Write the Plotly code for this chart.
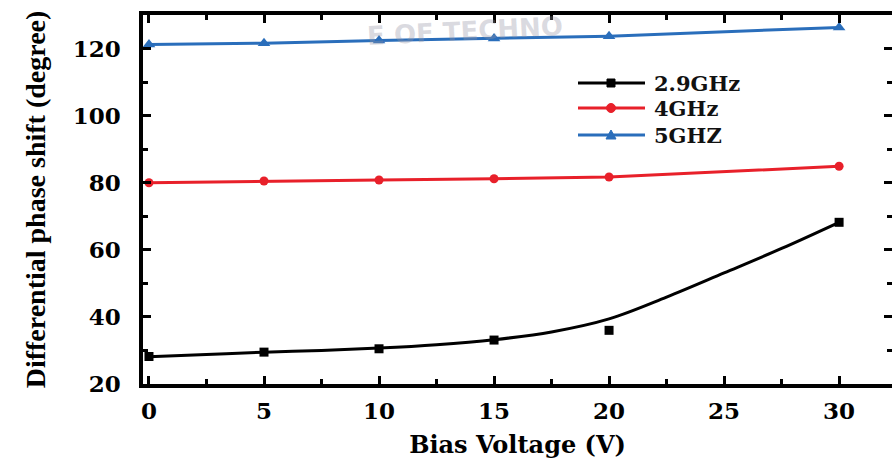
import plotly.graph_objects as go

# ---- data ----
bias_v = [0, 5, 10, 15, 20, 30]
phase_29 = [28.2, 29.5, 30.5, 33.1, 36.0, 68.2]
phase_4 = [80.0, 80.5, 80.8, 81.2, 81.7, 84.9]
phase_5 = [121.2, 121.6, 122.4, 123.0, 123.7, 126.3]

# smooth fitted curve for 2.9GHz
fit_v = [0, 2.5, 5, 7.5, 10, 12.5, 15, 17.5, 20, 22.5, 25, 27.5, 30]
fit_29 = [28.1, 28.8, 29.5, 30.0, 30.7, 31.7, 33.2, 35.5, 39.4, 45.9, 53.1, 60.4, 68.2]

series_names = ["2.9GHz", "4GHz", "5GHZ"]
series_colors = ["black", "#e8202a", "#2a6ebb"]

x_ticks = [0, 5, 10, 15, 20, 25, 30]
y_ticks = [20, 40, 60, 80, 100, 120]

# ---- layout geometry (pixels) ----
W, H = 892, 462
ML, MR, MT, MB = 143, 0, 15, 78
PW, PH = W - ML - MR, H - MT - MB


def px(x):
    return (x - ML) / PW


def py(y):
    return (H - MB - y) / PH


TICKFONT = dict(family="DejaVu Serif", size=23, color="black", weight="bold")

fig = go.Figure()

fig.add_trace(go.Scatter(x=fit_v, y=fit_29, mode="lines",
                         line=dict(color=series_colors[0], width=3, shape="spline"),
                         showlegend=False, hoverinfo="skip"))
fig.add_trace(go.Scatter(x=bias_v, y=phase_29, mode="markers", name=series_names[0],
                         marker=dict(symbol="square", size=9, color=series_colors[0]), showlegend=False))
fig.add_trace(go.Scatter(x=bias_v, y=phase_4, mode="lines+markers", name=series_names[1],
                         line=dict(color=series_colors[1], width=3),
                         marker=dict(symbol="circle", size=9, color=series_colors[1]), showlegend=False))
fig.add_trace(go.Scatter(x=bias_v, y=phase_5, mode="lines+markers", name=series_names[2],
                         line=dict(color=series_colors[2], width=3),
                         marker=dict(symbol="triangle-up", size=11, color=series_colors[2]), showlegend=False))
# dummy trace to activate right-side ticks
fig.add_trace(go.Scatter(x=[None], y=[None], yaxis="y2", showlegend=False, hoverinfo="skip"))

fig.update_layout(
    width=W, height=H,
    margin=dict(l=ML, r=MR, t=MT, b=MB),
    paper_bgcolor="white", plot_bgcolor="white",
    font=dict(family="DejaVu Serif", color="black"),
    showlegend=False,
    xaxis=dict(range=[-0.26, 32.3], tickvals=x_ticks, ticks="inside", ticklen=8, tickwidth=3,
               tickcolor="black", showline=True, linewidth=3.5, linecolor="black", mirror="ticks",
               showgrid=False, zeroline=False, tickfont=TICKFONT, ticklabelstandoff=4,
               minor=dict(dtick=2.5, tick0=0, ticks="inside", ticklen=5, tickwidth=3, tickcolor="black"),
               title=dict(text="Bias Voltage (V)",
                          font=dict(family="DejaVu Serif", size=24, weight="bold", color="black"),
                          standoff=14)),
    yaxis=dict(range=[20, 130], tickvals=y_ticks, ticks="inside", ticklen=8, tickwidth=3,
               tickcolor="black", showline=True, linewidth=3.5, linecolor="black",
               showgrid=False, zeroline=False, tickfont=TICKFONT, ticklabelstandoff=14,
               minor=dict(dtick=10, tick0=0, ticks="inside", ticklen=5, tickwidth=3, tickcolor="black"),
               title=dict(text="Differential phase shift (degree)",
                          font=dict(family="Liberation Serif", size=28, weight="bold", color="black"),
                          standoff=20)),
    yaxis2=dict(range=[20, 130], overlaying="y", side="right", anchor="x", tickvals=y_ticks,
                ticks="inside", ticklen=8, tickwidth=3, tickcolor="black", showticklabels=False,
                showline=False, showgrid=False, zeroline=False,
                minor=dict(dtick=10, tick0=0, ticks="inside", ticklen=5, tickwidth=3, tickcolor="black")),
)

# ---- hand-drawn legend ----
rows_y = [83, 108, 135]
line_x0, line_x1, mark_x, text_x = 578, 645, 611, 652
for name, col, ry, kind in zip(series_names, series_colors, rows_y, ["square", "circle", "triangle"]):
    fig.add_shape(type="line", xref="paper", yref="paper", x0=px(line_x0), x1=px(line_x1),
                  y0=py(ry), y1=py(ry), line=dict(color=col, width=3))
    common = dict(xref="paper", yref="paper", xsizemode="pixel", ysizemode="pixel",
                  xanchor=px(mark_x), yanchor=py(ry), fillcolor=col, line=dict(color=col, width=1))
    if kind == "square":
        fig.add_shape(type="rect", x0=-4, x1=4, y0=-4, y1=4, **common)
    elif kind == "circle":
        fig.add_shape(type="circle", x0=-4.5, x1=4.5, y0=-4.5, y1=4.5, **common)
    else:
        fig.add_shape(type="path", path="M -5,-4 L 5,-4 L 0,5 Z", **common)
    fig.add_annotation(text=name, xref="paper", yref="paper", x=px(text_x), y=py(ry),
                       xanchor="left", yanchor="middle", showarrow=False,
                       font=dict(family="DejaVu Serif", size=21, color="#111", weight="bold"))

# faint watermark text
fig.add_annotation(text="E OF TECHNO", xref="paper", yref="paper", x=px(465), y=py(31), xanchor="center",
                   yanchor="middle", showarrow=False, textangle=-3,
                   font=dict(family="DejaVu Sans", size=26, color="rgba(150,150,165,0.35)", weight="bold"))

fig.write_html("out.html", post_script="document.body.style.margin='0px';",
               config={"displayModeBar": False})
